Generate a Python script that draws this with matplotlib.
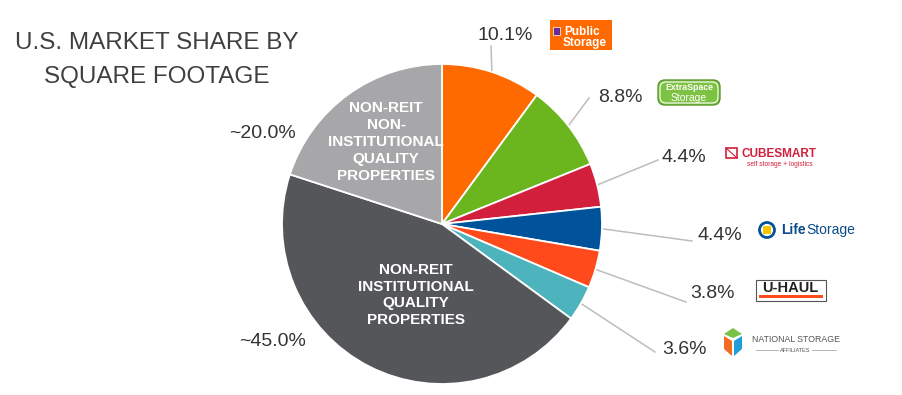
import matplotlib
matplotlib.use('Agg')
import numpy as np
from matplotlib import pyplot as plt
from matplotlib.patches import FancyBboxPatch, Rectangle, Circle, Polygon

plt.rcParams['font.family'] = ['Liberation Sans', 'DejaVu Sans']

# data (clockwise from 12 o'clock)
segments = ['Public Storage', 'Extra Space Storage', 'CubeSmart', 'Life Storage',
            'U-Haul', 'National Storage Affiliates',
            'Non-REIT Institutional Quality Properties',
            'Non-REIT Non-Institutional Quality Properties']
shares = [10.1, 8.8, 4.4, 4.4, 3.8, 3.6, 45.0, 20.0]
share_labels = ['10.1%', '8.8%', '4.4%', '4.4%', '3.8%', '3.6%', '~45.0%', '~20.0%']
inner_labels = ['', '', '', '', '', '',
                'NON-REIT\nINSTITUTIONAL\nQUALITY\nPROPERTIES',
                'NON-REIT\nNON-\nINSTITUTIONAL\nQUALITY\nPROPERTIES']
colors = ['#FF6A00', '#6BB51E', '#D21F3C', '#00529B', '#FF4A1C', '#4DB3BD', '#545659', '#A7A7A9']

W, H = 902, 395
CX, CY, R = 442, 224, 160

# label layout in pixel coords (x, y, ha) and leader line ends
label_pos = [(505, 36, 'center'), (598, 98, 'left'), (662, 158, 'left'), (697, 236, 'left'),
             (690, 294, 'left'), (662, 349, 'left'), (273, 341, 'center'), (262, 133, 'center')]
line_end = [(491, 46), (589, 98), (658, 160), (692, 241), (686, 302), (655, 352), None, None]
inner_pos = [None] * 6 + [(416, 295), (386, 142)]

fig = plt.figure(figsize=(W / 100, H / 100), dpi=100)
ax = fig.add_axes([0, 0, 1, 1])

# y axis is flipped, so counterclock=True reads clockwise on screen
wedges, _ = ax.pie(shares, colors=colors, startangle=-90, counterclock=True,
                   center=(CX, CY), radius=R,
                   wedgeprops=dict(edgecolor='white', linewidth=1.3))
ax.set_xlim(0, W)
ax.set_ylim(H, 0)
ax.set_aspect('equal')
ax.axis('off')

for i, w in enumerate(wedges):
    mid = np.deg2rad((w.theta1 + w.theta2) / 2)
    if line_end[i] is not None:
        x0 = CX + R * np.cos(mid)
        y0 = CY + R * np.sin(mid)
        ax.plot([x0, line_end[i][0]], [y0, line_end[i][1]], color='#BDBDBD', lw=1.1, zorder=0)
    lx, ly, ha = label_pos[i]
    ax.text(lx, ly, share_labels[i], ha=ha, va='center', fontsize=14, color='#333333')
    if inner_labels[i]:
        ix, iy = inner_pos[i]
        ax.text(ix, iy, inner_labels[i], ha='center', va='center', fontsize=11,
                fontweight='bold', color='white', linespacing=1.25, multialignment='center')

# title
ax.text(157, 49, 'U.S. MARKET SHARE BY', ha='center', va='baseline', fontsize=17.5, color='#404040')
ax.text(157, 83, 'SQUARE FOOTAGE', ha='center', va='baseline', fontsize=17.5, color='#404040')

# logos, drawn roughly
# public storage
ax.add_patch(Rectangle((550, 20), 62, 30, facecolor='#FF6A00', edgecolor='none'))
ax.add_patch(Rectangle((553, 27), 7, 8, facecolor='#6B2C91', edgecolor='white', lw=0.5))
ax.text(564, 32, 'Public', ha='left', va='center', fontsize=8.5, fontweight='bold', color='white')
ax.text(563, 43, 'Storage', ha='left', va='center', fontsize=8.5, fontweight='bold', color='white')

# extra space
ax.add_patch(FancyBboxPatch((658, 80), 62, 25, boxstyle='round,pad=0,rounding_size=7',
                            facecolor='#7DC242', edgecolor='#5A9A2A', lw=1.0))
ax.add_patch(FancyBboxPatch((660, 82), 58, 21, boxstyle='round,pad=0,rounding_size=6',
                            facecolor='none', edgecolor='white', lw=0.8))
ax.text(689, 88, 'ExtraSpace', ha='center', va='center', fontsize=6.3, fontweight='bold', color='white')
ax.text(689, 98, 'Storage', ha='center', va='center', fontsize=7.5, color='white')

# cubesmart
ax.add_patch(Rectangle((726, 148), 11, 10, facecolor='none', edgecolor='#D21F3C', lw=1.2))
ax.plot([726, 737], [148, 158], color='#D21F3C', lw=0.8)
ax.text(742, 154, 'CUBESMART', ha='left', va='center', fontsize=8.5, fontweight='bold', color='#D21F3C')
ax.text(747, 165, 'self storage + logistics', ha='left', va='center', fontsize=4.8, color='#D21F3C')

# life storage
ax.add_patch(Circle((767, 230), 7.5, facecolor='white', edgecolor='#00529B', lw=2))
ax.add_patch(Rectangle((763, 226), 8, 8, facecolor='#F6C400', edgecolor='none'))
ax.text(781, 230, 'Life', ha='left', va='center', fontsize=10, fontweight='bold', color='#0A4B8C')
ax.text(806, 230, 'Storage', ha='left', va='center', fontsize=10, color='#0A4B8C')

# u-haul
ax.add_patch(Rectangle((756, 280), 70, 21, facecolor='white', edgecolor='#555555', lw=0.8))
ax.add_patch(Rectangle((759, 295), 64, 3, facecolor='#FF4A1C', edgecolor='none'))
ax.text(790, 288.5, 'U-HAUL', ha='center', va='center', fontsize=10.5, fontweight='bold', color='#222222')

# national storage affiliates
ax.add_patch(Polygon([(724, 334), (733, 328), (742, 334), (733, 338)], facecolor='#7AC143', edgecolor='none'))
ax.add_patch(Polygon([(724, 336), (732, 341), (732, 356), (724, 349)], facecolor='#F26B21', edgecolor='none'))
ax.add_patch(Polygon([(742, 336), (734, 341), (734, 356), (742, 349)], facecolor='#1F9ED9', edgecolor='none'))
ax.text(752, 339, 'NATIONAL STORAGE', ha='left', va='center', fontsize=6.3, color='#555555')
ax.text(795, 350, 'AFFILIATES', ha='center', va='center', fontsize=4, color='#555555')
ax.plot([756, 778], [350, 350], color='#999999', lw=0.5)
ax.plot([812, 836], [350, 350], color='#999999', lw=0.5)

fig.savefig('out.png', dpi=100)
